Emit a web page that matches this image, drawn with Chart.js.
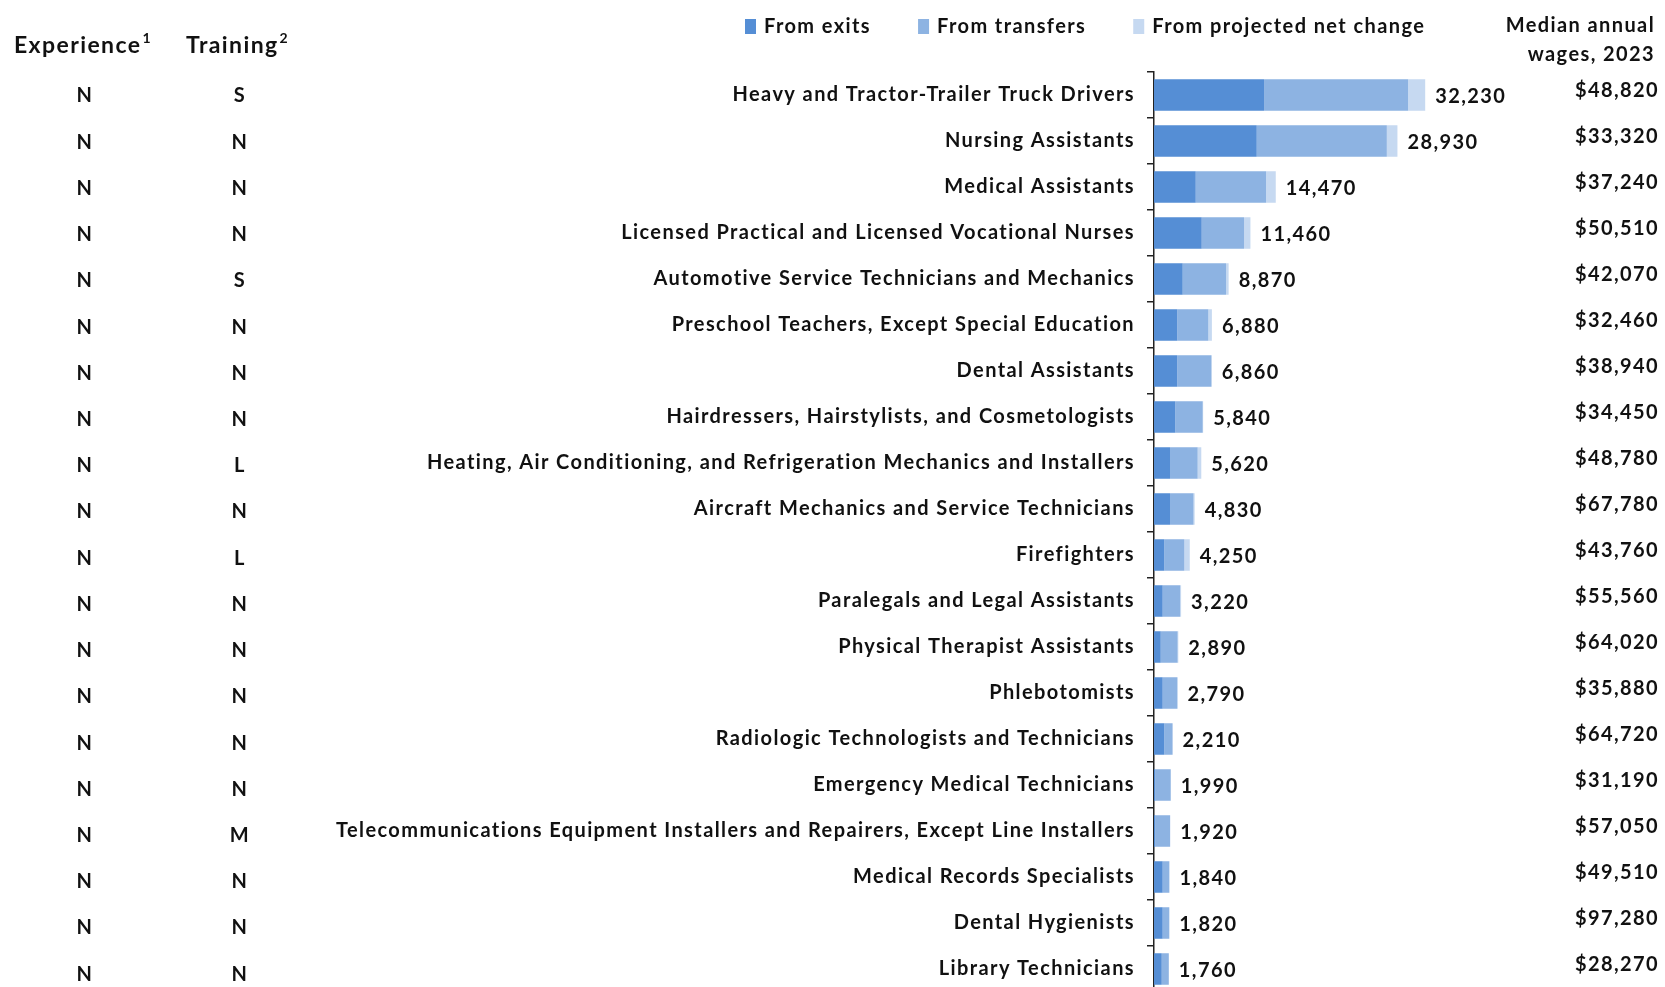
<!DOCTYPE html>
<html>
<head>
<meta charset="utf-8">
<title>Openings by occupation</title>
<script src="https://cdn.jsdelivr.net/npm/chart.js@4.4.1/dist/chart.umd.min.js"></script>
<style>
  html, body { margin: 0; padding: 0; background: #fff; overflow: hidden; }
  #chart { display: block; }
</style>
</head>
<body>
<!-- a bit taller than the window: the last row is cut off at the bottom, as in the source -->
<canvas id="chart" width="1665" height="992"></canvas>
<script>
// Occupations, top to bottom
const occupations = [
    'Heavy and Tractor-Trailer Truck Drivers',
    'Nursing Assistants',
    'Medical Assistants',
    'Licensed Practical and Licensed Vocational Nurses',
    'Automotive Service Technicians and Mechanics',
    'Preschool Teachers, Except Special Education',
    'Dental Assistants',
    'Hairdressers, Hairstylists, and Cosmetologists',
    'Heating, Air Conditioning, and Refrigeration Mechanics and Installers',
    'Aircraft Mechanics and Service Technicians',
    'Firefighters',
    'Paralegals and Legal Assistants',
    'Physical Therapist Assistants',
    'Phlebotomists',
    'Radiologic Technologists and Technicians',
    'Emergency Medical Technicians',
    'Telecommunications Equipment Installers and Repairers, Except Line Installers',
    'Medical Records Specialists',
    'Dental Hygienists',
    'Library Technicians'
];

const experience = ['N', 'N', 'N', 'N', 'N', 'N', 'N', 'N', 'N', 'N',
                    'N', 'N', 'N', 'N', 'N', 'N', 'N', 'N', 'N', 'N'];
const training = ['S', 'N', 'N', 'N', 'S', 'N', 'N', 'N', 'L', 'N',
                  'L', 'N', 'N', 'N', 'N', 'N', 'M', 'N', 'N', 'N'];

// Annual openings split
const fromExits     = [13080, 12210, 4960, 5670, 3410, 2770, 2770, 2540, 1900, 1900,
                       1230, 1030, 800, 1030, 1230, 150, 150, 1030, 1030, 920];
const fromTransfers = [17130, 15460, 8360, 5030, 5150, 3690, 4060, 3250, 3290, 2800,
                       2380, 2060, 2010, 1760, 980, 1840, 1770, 790, 790, 840];
const fromNetChange = [2020, 1260, 1150, 760, 310, 420, 30, 50, 430, 130,
                       640, 130, 80, 0, 0, 0, 0, 20, 0, 0];

const totalOpenings = [32230, 28930, 14470, 11460, 8870, 6880, 6860, 5840, 5620, 4830,
                       4250, 3220, 2890, 2790, 2210, 1990, 1920, 1840, 1820, 1760];

const medianWages = [48820, 33320, 37240, 50510, 42070, 32460, 38940, 34450, 48780, 67780,
                     43760, 55560, 64020, 35880, 64720, 31190, 57050, 49510, 97280, 28270];

const seriesLabels = ['From exits', 'From transfers', 'From projected net change'];
const seriesColors = ['#558ed5', '#8db3e2', '#c6d9f1'];

const FONT = 'Lato, "Open Sans", "DejaVu Sans", sans-serif';
const TEXT = '#111';
const SPACING = '1.4px';   // the source font is set loose

const fmt = (n) => n.toLocaleString('en-US');

// header text with a raised footnote number
function headerWithNote(ctx, text, note, x, y) {
    ctx.font = `bold 23px ${FONT}`;
    ctx.fillText(text, x, y);
    const w = ctx.measureText(text).width;
    ctx.font = `bold 14px ${FONT}`;
    ctx.fillText(note, x + w + 1, y - 8);
}

// Draws the side table, header, legend and the total labels
const sideTable = {
    id: 'sideTable',
    beforeDraw(chart) {
        chart.ctx.letterSpacing = SPACING;
    },
    afterDatasetsDraw(chart) {
        const ctx = chart.ctx;
        const last = chart.getDatasetMeta(chart.data.datasets.length - 1);
        ctx.save();
        ctx.font = `bold 20px ${FONT}`;
        ctx.fillStyle = TEXT;
        ctx.textAlign = 'left';
        ctx.textBaseline = 'middle';
        last.data.forEach((bar, i) => {
            ctx.fillText(fmt(totalOpenings[i]), bar.x + 10, bar.y + 2);
        });
        ctx.restore();
    },
    afterDraw(chart) {
        const ctx = chart.ctx;
        const y = chart.scales.y;
        ctx.save();
        ctx.fillStyle = TEXT;
        ctx.textBaseline = 'middle';

        // column headers
        ctx.textAlign = 'left';
        headerWithNote(ctx, 'Experience', '1', 14, 46);
        headerWithNote(ctx, 'Training', '2', 186, 46);

        ctx.font = `bold 20px ${FONT}`;
        ctx.textAlign = 'right';
        ctx.fillText('Median annual', 1655, 26);
        ctx.fillText('wages, 2023', 1655, 55);

        // legend
        let lx = 745;
        chart.data.datasets.forEach((ds) => {
            ctx.fillStyle = ds.backgroundColor;
            ctx.fillRect(lx, 19, 11, 15);
            ctx.fillStyle = TEXT;
            ctx.textAlign = 'left';
            ctx.fillText(ds.label, lx + 19, 27);
            lx += 19 + ctx.measureText(ds.label).width + 47;
        });

        // table rows (the source table runs a touch looser than the bars)
        occupations.forEach((_, i) => {
            const py = y.getPixelForValue(i);
            ctx.textAlign = 'center';
            ctx.fillText(experience[i], 85, py + 1 + i * 0.22);
            ctx.fillText(training[i], 240, py + 1 + i * 0.22);
            ctx.textAlign = 'right';
            ctx.fillText('$' + fmt(medianWages[i]), 1659, py - 4);
        });
        ctx.restore();
    }
};

const datasets = [fromExits, fromTransfers, fromNetChange].map((values, k) => ({
    label: seriesLabels[k],
    data: values,
    backgroundColor: seriesColors[k],
    borderWidth: 0,
    barPercentage: 0.685,
    categoryPercentage: 1.0
}));

new Chart(document.getElementById('chart'), {
    type: 'bar',
    data: { labels: occupations, datasets: datasets },
    options: {
        indexAxis: 'y',
        responsive: false,
        animation: false,
        devicePixelRatio: 1,
        layout: { padding: { top: 72, right: 166, bottom: 0, left: 0 } },
        plugins: {
            legend: { display: false },
            tooltip: { enabled: false }
        },
        scales: {
            x: { stacked: true, display: false, min: 0, max: 41000 },
            y: {
                stacked: true,
                grid: {
                    offset: true,
                    drawOnChartArea: false,
                    drawTicks: true,
                    tickLength: 7,
                    color: '#222',
                    lineWidth: 1.5
                },
                border: { display: true, color: '#222', width: 1.5 },
                ticks: {
                    autoSkip: false,
                    padding: 12,
                    color: TEXT,
                    font: { family: FONT, size: 20, weight: 'bold' }
                },
                afterFit(scale) {
                    scale.width = 1154;
                    scale.paddingTop = 0;
                    scale.paddingBottom = 0;
                }
            }
        }
    },
    plugins: [sideTable]
});
</script>
</body>
</html>
